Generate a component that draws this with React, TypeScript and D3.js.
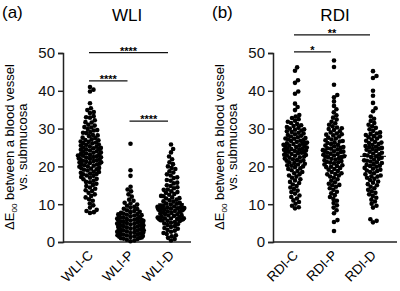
import React, { useEffect, useRef } from "react";
import * as d3 from "d3";

const W = 400;
const H = 291;

// ΔE00 per lesion, white-light imaging
const WLI_C = [
  41.0, 40.3, 39.8, 36.7, 35.4, 34.9, 34.4, 34.1, 33.3, 33.0, 32.9, 32.2, 31.7, 31.6, 31.0, 30.8, 30.4, 30.3,
  29.9, 29.6, 29.5, 29.1, 28.9, 28.8, 28.3, 28.2, 28.0, 27.6, 27.5, 27.2, 27.0, 26.9, 26.6, 26.5, 26.2, 26.1,
  25.8, 25.7, 25.5, 25.3, 25.2, 24.9, 24.8, 24.6, 24.5, 24.2, 24.0, 23.9, 23.7, 23.6, 23.4, 23.2, 23.1, 22.9,
  22.8, 22.7, 22.4, 22.3, 22.1, 22.0, 21.8, 21.6, 21.5, 21.4, 21.1, 21.0, 20.9, 20.7, 20.5, 20.3, 20.2, 20.0,
  19.9, 19.6, 19.5, 19.2, 19.1, 18.9, 18.6, 18.5, 18.3, 18.0, 17.9, 17.6, 17.5, 17.2, 17.0, 16.7, 16.6, 16.2,
  15.9, 15.8, 15.4, 15.1, 14.8, 14.4, 14.1, 13.7, 13.5, 13.0, 12.6, 12.2, 11.8, 11.3, 10.9, 10.2, 9.7, 9.1,
  8.5, 8.2, 7.9, 7.7, 24.4, 23.3, 22.5, 21.9, 21.2, 20.6, 25.0, 26.3, 19.4, 18.1,
];
const WLI_P = [
  26.0, 19.0, 17.5, 14.6, 13.9, 13.4, 12.6, 12.0, 11.2, 10.9, 10.4, 10.2, 9.9, 9.6, 9.3, 9.1, 8.8, 8.7, 8.4,
  8.2, 8.0, 7.9, 7.7, 7.5, 7.4, 7.2, 7.1, 7.0, 6.8, 6.7, 6.5, 6.4, 6.3, 6.2, 6.0, 5.9, 5.8, 5.7, 5.6, 5.5,
  5.4, 5.3, 5.2, 5.1, 5.0, 4.9, 4.8, 4.8, 4.7, 4.6, 4.5, 4.4, 4.3, 4.2, 4.1, 4.0, 3.9, 3.8, 3.7,
  3.6, 3.5, 3.4, 3.3, 3.2, 3.1, 3.0, 2.9, 2.8, 2.7, 2.6, 2.5, 2.4, 2.3, 2.2,
  2.1, 2.0, 1.9, 1.8, 1.7, 1.6, 1.5, 1.4, 1.3, 1.2, 1.1, 1.0, 0.9, 0.8,
  0.6, 0.4, 0.2, 6.1, 5.6, 4.4, 3.1, 2.5, 1.8, 6.6, 7.3,
];
const WLI_D = [
  25.8, 24.6, 23.7, 22.6, 21.9, 21.1, 20.6, 20.0, 19.6, 19.3, 18.7, 18.4, 17.9, 17.6, 17.1, 16.9, 16.4, 16.2,
  15.7, 15.5, 15.0, 14.8, 14.5, 14.2, 13.9, 13.8, 13.4, 13.2, 13.0, 12.7, 12.5, 12.2, 12.1, 11.8, 11.6, 11.5,
  11.2, 11.0, 10.8, 10.7, 10.4, 10.2, 10.1, 9.9, 9.8, 9.6, 9.5, 9.4, 9.2, 9.1, 9.0, 8.9, 8.8, 8.7, 8.6, 8.5,
  8.4, 8.2, 8.1, 8.0, 7.8, 7.7, 7.5, 7.4, 7.3, 7.1, 7.0, 6.9, 6.7, 6.6, 6.5, 6.4, 6.3, 6.2, 6.1, 6.0, 5.9,
  5.8, 5.6, 5.5, 5.3, 5.1, 4.9, 4.7, 4.5, 4.2, 4.0, 3.7, 3.5, 3.2, 3.0, 2.7, 2.4, 2.1, 1.8, 1.5, 1.1, 0.8,
  0.4, 9.0, 8.8, 8.5, 6.3, 6.1, 5.7, 9.3, 8.3,
];

// ΔE00 per lesion, red dichromatic imaging
const RDI_C = [
  46.2, 45.3, 42.8, 42.1, 39.8, 39.2, 36.6, 35.7, 34.9, 33.6, 33.2, 32.8, 32.5, 32.1, 31.8, 31.5, 31.2, 30.9,
  30.7, 30.4, 30.2, 30.0, 29.8, 29.5, 29.3, 29.1, 28.9, 28.7, 28.5, 28.3, 28.1, 27.9, 27.7, 27.5, 27.4, 27.2,
  27.0, 26.8, 26.7, 26.5, 26.3, 26.2, 26.0, 25.9, 25.7, 25.6, 25.4, 25.3, 25.1, 25.0, 24.8, 24.7, 24.5, 24.4,
  24.2, 24.1, 23.9, 23.8, 23.6, 23.5, 23.3, 23.1, 23.0, 22.8, 22.6, 22.4, 22.3, 22.1, 21.9, 21.7, 21.5, 21.3,
  21.1, 20.9, 20.7, 20.5, 20.2, 20.0, 19.8, 19.5, 19.3, 19.0, 18.8, 18.5, 18.2, 17.9, 17.6, 17.3, 17.0, 16.6,
  16.3, 15.9, 15.6, 15.2, 14.8, 14.4, 14.0, 13.6, 13.2, 12.8, 12.3, 11.9, 11.5, 11.0, 10.6, 10.1, 9.6, 9.2,
  8.9, 29.7, 27.3, 26.1, 25.5, 24.6, 23.7, 22.9, 21.6, 20.3,
];
const RDI_P = [
  48.0, 46.3, 41.6, 38.9, 38.3, 37.2, 36.0, 35.1, 34.3, 33.5, 32.9, 32.4, 31.8, 31.4, 31.0, 30.6, 30.3, 29.9,
  29.6, 29.3, 29.0, 28.7, 28.4, 28.2, 27.9, 27.6, 27.4, 27.1, 26.9, 26.6, 26.4, 26.2, 25.9, 25.7, 25.5, 25.3,
  25.1, 24.9, 24.7, 24.5, 24.3, 24.1, 24.0, 23.8, 23.6, 23.4, 23.3, 23.1, 22.9, 22.7, 22.6, 22.4, 22.2, 22.0,
  21.8, 21.6, 21.4, 21.2, 21.0, 20.8, 20.5, 20.3, 20.1, 19.8, 19.6, 19.3, 19.1, 18.8, 18.5, 18.2, 17.9, 17.6,
  17.3, 17.0, 16.6, 16.2, 15.8, 15.4, 15.0, 14.6, 14.2, 13.8, 13.3, 12.9, 12.4, 11.9, 11.4, 10.9, 10.3, 9.7,
  9.1, 8.4, 7.6, 5.8, 5.3, 2.9, 30.1, 28.5, 26.7, 24.8, 23.9, 22.5, 21.1, 19.9, 18.0, 15.1,
];
const RDI_D = [
  45.2, 43.9, 43.4, 40.0, 38.7, 36.8, 35.4, 34.6, 33.2, 32.6, 32.0, 31.5, 31.0, 30.6, 30.2, 29.8, 29.4, 29.0,
  28.7, 28.3, 28.0, 27.7, 27.4, 27.1, 26.8, 26.5, 26.2, 25.9, 25.7, 25.4, 25.1, 24.9, 24.6, 24.4, 24.1, 23.9,
  23.6, 23.4, 23.2, 22.9, 22.7, 22.5, 22.3, 22.0, 21.8, 21.6, 21.3, 21.1, 20.9, 20.6, 20.4, 20.1, 19.9, 19.6,
  19.4, 19.1, 18.8, 18.5, 18.2, 17.9, 17.6, 17.3, 17.0, 16.7, 16.4, 16.0, 15.7, 15.3, 15.0, 14.6, 14.2, 13.8,
  13.4, 13.0, 12.6, 12.2, 11.7, 11.2, 10.7, 10.1, 9.6, 9.1, 6.0, 5.6, 5.2, 27.9, 26.3, 24.7, 23.0, 21.5,
  20.2, 18.9, 17.4, 28.6, 25.2,
];

const WLI_GROUPS = ["WLI-C", "WLI-P", "WLI-D"];
const RDI_GROUPS = ["RDI-C", "RDI-P", "RDI-D"];
const Y_TICKS = [0, 10, 20, 30, 40, 50];

// [from, to, height in ΔE units, label]
const WLI_SIG: [number, number, number, string][] = [
  [0, 2, 50.1, "****"],
  [0, 1, 42.6, "****"],
  [1, 2, 32.0, "****"],
];
const RDI_SIG: [number, number, number, string][] = [
  [0, 2, 54.8, "**"],
  [0, 1, 50.3, "*"],
];

const panels = [
  { tag: "(a)", title: "WLI", groups: WLI_GROUPS, values: [WLI_C, WLI_P, WLI_D], sig: WLI_SIG, x0: 63, x1: 191, range: [69.75, 191.25] },
  { tag: "(b)", title: "RDI", groups: RDI_GROUPS, values: [RDI_C, RDI_P, RDI_D], sig: RDI_SIG, x0: 273, x1: 397, range: [275.5, 392.5] },
];

const FONT = "'Liberation Sans', Arial, sans-serif";
const R = 2.3;
const HALF_W = 14;

// simple dodge layout: each dot goes to the smallest offset that doesn't collide,
// then wide rows get squeezed so the swarm stays inside its column
function swarm(vals: number[], y: d3.ScaleLinear<number, number>, dist: number) {
  const pts = vals.map((v) => ({ v, py: y(v), dx: 0 })).sort((a, b) => a.v - b.v);
  const placed: { v: number; py: number; dx: number }[] = [];
  for (const p of pts) {
    const near = placed.filter((q) => Math.abs(q.py - p.py) < dist);
    const cands = [0];
    for (const q of near) {
      const off = Math.sqrt(dist * dist - (q.py - p.py) ** 2);
      cands.push(q.dx + off, q.dx - off);
    }
    cands.sort((a, b) => Math.abs(a) - Math.abs(b));
    for (const c of cands) {
      if (near.every((q) => (q.dx - c) ** 2 + (q.py - p.py) ** 2 >= dist * dist - 0.01)) {
        p.dx = c;
        break;
      }
    }
    placed.push(p);
  }
  placed.forEach((p) => (p.dx = HALF_W * Math.tanh(p.dx / HALF_W)));
  return placed;
}

export default function App() {
  const svgRef = useRef(null);
  useEffect(() => {
    const svg = d3.select(svgRef.current);
    svg.selectAll("*").remove();

    const y = d3.scaleLinear().domain([0, 50]).range([242, 53]);

    panels.forEach((pn) => {
      const g = svg.append("g");
      const x = d3.scaleBand().domain(pn.groups).range(pn.range as [number, number]);
      const cx = (k: string) => (x(k) || 0) + x.bandwidth() / 2;

      g.append("text").attr("x", pn.x0 - 61).attr("y", 18).attr("font-size", 17).text(pn.tag);
      g.append("text")
        .attr("x", (pn.x0 + pn.x1) / 2)
        .attr("y", 21)
        .attr("text-anchor", "middle")
        .attr("font-size", 17)
        .text(pn.title);

      // y axis
      const ya = g
        .append("g")
        .attr("transform", `translate(${pn.x0},0)`)
        .call(d3.axisLeft(y).tickValues(Y_TICKS).tickSize(5).tickPadding(3));
      ya.select(".domain").attr("stroke", "#222").attr("stroke-width", 1.5);
      ya.selectAll(".tick line").attr("stroke", "#222").attr("stroke-width", 1.5);
      ya.selectAll(".tick text").attr("font-size", 15).attr("font-family", FONT).attr("fill", "#111");

      // x axis line + rotated labels
      g.append("line")
        .attr("x1", pn.x0)
        .attr("x2", pn.x1)
        .attr("y1", y(0))
        .attr("y2", y(0))
        .attr("stroke", "#222")
        .attr("stroke-width", 1.5);
      g.selectAll(".xl")
        .data(pn.groups)
        .join("text")
        .attr("transform", (d) => `translate(${cx(d) + 4},${y(0) + 14}) rotate(-45)`)
        .attr("text-anchor", "end")
        .attr("font-size", 13.5)
        .text((d) => d);

      // y axis title
      const yl = g.append("text").attr("font-size", 13).attr("text-anchor", "middle");
      yl.append("tspan").attr("x", 0).attr("y", 0).text("ΔE");
      yl.append("tspan").attr("font-size", 8).attr("dy", 3).text("00");
      yl.append("tspan").attr("dy", -3).text(" between a blood vessel");
      yl.attr("transform", `translate(${pn.x0 - 49},147) rotate(-90)`);
      g.append("text")
        .attr("font-size", 13)
        .attr("text-anchor", "middle")
        .attr("transform", `translate(${pn.x0 - 36},147) rotate(-90)`)
        .text("vs. submucosa");

      // dots
      pn.groups.forEach((k, i) => {
        const pts = swarm(pn.values[i], y, R * 1.75);
        g.append("g")
          .selectAll("circle")
          .data(pts)
          .join("circle")
          .attr("cx", (d) => cx(k) + d.dx)
          .attr("cy", (d) => d.py)
          .attr("r", R)
          .attr("fill", "#000");
        const m = d3.mean(pn.values[i]) || 0;
        g.append("line")
          .attr("x1", cx(k) - 13)
          .attr("x2", cx(k) + 13)
          .attr("y1", y(m))
          .attr("y2", y(m))
          .attr("stroke", "#000")
          .attr("stroke-width", 1);
      });

      // significance bars
      pn.sig.forEach(([a, b, v, lab]) => {
        const xa = cx(pn.groups[a]);
        const xb = cx(pn.groups[b]);
        g.append("line")
          .attr("x1", xa - 1)
          .attr("x2", xb - 3)
          .attr("y1", y(v))
          .attr("y2", y(v))
          .attr("stroke", "#111")
          .attr("stroke-width", 1.2);
        g.append("text")
          .attr("x", (xa + xb) / 2 - 2)
          .attr("y", y(v) + 2)
          .attr("text-anchor", "middle")
          .attr("font-size", 11)
          .attr("font-weight", "bold")
          .text(lab);
      });
    });
  }, []);

  return (
    <svg
      ref={svgRef}
      width={W}
      height={H}
      fontFamily={FONT}
      style={{ position: "absolute", left: 0, top: 0, background: "#fff" }}
    ></svg>
  );
}
